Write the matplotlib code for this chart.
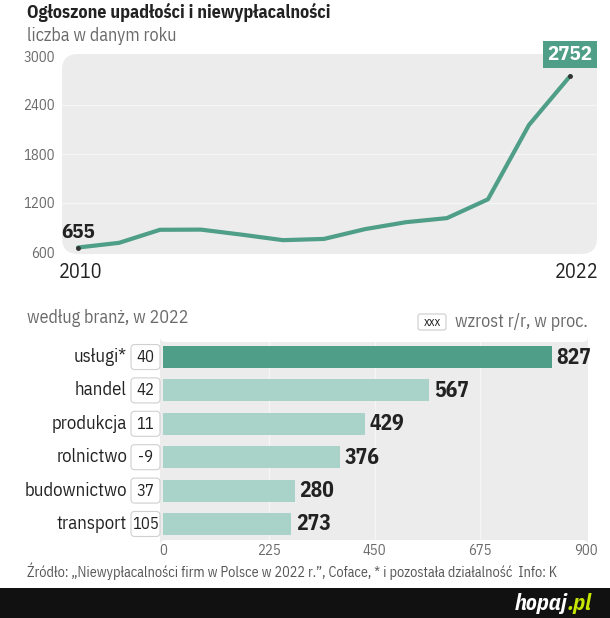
import matplotlib
matplotlib.use("Agg")
import matplotlib.pyplot as plt
from matplotlib.patches import FancyBboxPatch, Rectangle
from matplotlib.text import Annotation

plt.rcParams['font.family'] = ['IBM Plex Sans Condensed', 'DejaVu Sans']

# dane - wykres liniowy
years = list(range(2010, 2023))
counts = [655, 712, 872, 874, 812, 745, 760, 880, 965, 1015, 1245, 2155, 2752]
y_ticks = [600, 1200, 1800, 2400, 3000]

# dane - branże 2022
sectors = ['usługi*', 'handel', 'produkcja', 'rolnictwo', 'budownictwo', 'transport']
sector_counts = [827, 567, 429, 376, 280, 273]
growth = ['40', '42', '11', '-9', '37', '105']
x_ticks = [0, 225, 450, 675, 900]

W, H = 610, 618
teal = '#4f9e87'
light = '#a9d3c8'
panel = '#ececec'
gray = '#6a6a6a'
dark = '#222222'


def px_axes(fig, x0, y0, x1, y1):
    return fig.add_axes([x0 / W, 1 - y1 / H, (x1 - x0) / W, (y1 - y0) / H])


fig = plt.figure(figsize=(W / 100, H / 100), dpi=100)
fig.patch.set_facecolor('white')

fig.text(27 / W, 1 - 12 / H, 'Ogłoszone upadłości i niewypłacalności', fontsize=13,
         fontweight='bold', color=dark, va='center', ha='left')
fig.text(27 / W, 1 - 36 / H, 'liczba w danym roku', fontsize=13, color=gray,
         va='center', ha='left')

# --- górny wykres ---
ax = px_axes(fig, 62, 56, 597, 252)
ax.patch.set_visible(False)
ax.add_patch(FancyBboxPatch((0, -0.01), 1, 1.02, boxstyle='round,pad=0,rounding_size=0.03',
                            transform=ax.transAxes, facecolor=panel, edgecolor='none',
                            clip_on=False, zorder=0, mutation_aspect=2.7))
for v in y_ticks[1:-1]:
    ax.axhline(v, color='#f6f6f6', lw=1, zorder=1)
ax.plot(years, counts, color=teal, lw=3, solid_joinstyle='round', solid_capstyle='round', zorder=3)
ax.plot([years[0], years[-1]], [counts[0], counts[-1]], 'o', color='#333333', ms=2.5, zorder=4)
ax.set_xlim(2009.61, 2022.66)
ax.set_ylim(600, 3000)
ax.set_yticks(y_ticks)
ax.set_yticklabels([str(v) for v in y_ticks])
ax.set_xticks([])
ax.tick_params(axis='y', length=0, pad=5, labelsize=10.5, labelcolor=gray)
for s in ax.spines.values():
    s.set_visible(False)
ax.text(years[0] - 0.4, counts[0] + 70, str(counts[0]), fontsize=15, fontweight='bold',
        color=dark, ha='left', va='bottom')
ax.text(years[-1], counts[-1] + 150, str(counts[-1]), fontsize=15, fontweight='bold',
        color='white', ha='center', va='bottom', zorder=5,
        bbox=dict(boxstyle='square,pad=0.2', facecolor=teal, edgecolor='none'))
ax.text(years[0] + 0.05, 470, str(years[0]), fontsize=14.5, color=dark, ha='center', va='top')
ax.text(years[-1] + 0.15, 470, str(years[-1]), fontsize=14.5, color=dark, ha='center', va='top')

# --- dolny wykres ---
fig.text(27 / W, 1 - 318 / H, 'według branż, w 2022', fontsize=13, color=gray,
         va='center', ha='left')
fig.patches.append(FancyBboxPatch((418 / W, 1 - 330 / H), 28 / W, 16 / H,
                                  boxstyle='round,pad=0,rounding_size=0.004',
                                  transform=fig.transFigure, facecolor='white',
                                  edgecolor='#cccccc', lw=0.8, figure=fig))
fig.text(432 / W, 1 - 322 / H, 'xxx', fontsize=9, color=dark, va='center', ha='center')
fig.text(455 / W, 1 - 322 / H, 'wzrost r/r, w proc.', fontsize=13, color=gray,
         va='center', ha='left')

bx = px_axes(fig, 163, 342, 586, 540)
bx.patch.set_visible(False)
xpu = 900 / 423.0
ypu = 5.93 / 198.0
bx.set_xlim(0, 900)
bx.set_ylim(5.48, -0.45)
bx.add_patch(FancyBboxPatch((-3 * xpu, 5.48), 428 * xpu, -5.93,
                            boxstyle='round,pad=0,rounding_size=12',
                            mutation_aspect=ypu / xpu, facecolor=panel, edgecolor='none',
                            clip_on=False, zorder=0))
for v in x_ticks[1:-1]:
    bx.axvline(v, color='#f6f6f6', lw=1, zorder=1)
colors = [teal] + [light] * (len(sectors) - 1)
bx.barh(range(len(sectors)), sector_counts, height=0.66, color=colors, zorder=2)
for i, (name, val, g) in enumerate(zip(sectors, sector_counts, growth)):
    bx.text(val + 5 * xpu, i, str(val), fontsize=15.5, fontweight='bold', color=dark,
            ha='left', va='center')
    bx.text(-36 * xpu, i, name, fontsize=13.5, color=dark, ha='right', va='center')
    bx.add_patch(FancyBboxPatch((-32 * xpu, i - 12.5 * ypu), 29 * xpu, 25 * ypu,
                                boxstyle='round,pad=0,rounding_size=8',
                                mutation_aspect=ypu / xpu, facecolor='white',
                                edgecolor='#d0d0d0', lw=0.8, clip_on=False, zorder=3))
    bx.text(-17.5 * xpu, i, g, fontsize=12, color=dark, ha='center', va='center', zorder=4)
bx.set_xticks(x_ticks)
bx.set_xticklabels([str(v) for v in x_ticks])
bx.set_yticks([])
bx.tick_params(axis='x', length=0, pad=3, labelsize=10.5, labelcolor=gray)
for s in bx.spines.values():
    s.set_visible(False)

fig.text(27 / W, 1 - 571 / H,
         'Źródło: „Niewypłacalności firm w Polsce w 2022 r.”, Coface, * i pozostała działalność  Info: K',
         fontsize=10.2, color='#555555', va='center', ha='left')

# pasek na dole
fig.patches.append(Rectangle((0, 0), 1, 30 / H, transform=fig.transFigure,
                             facecolor='#111111', edgecolor='none', figure=fig))
logo = fig.text(515 / W, 14 / H, 'hopaj', fontsize=16, fontweight='bold', fontstyle='italic',
                color='white', ha='left', va='center')
fig.add_artist(Annotation('.pl', xy=(1, 0.5), xycoords=logo, xytext=(0, 0),
                          textcoords='offset points', fontsize=16, fontweight='bold',
                          fontstyle='italic', color='#c6e600', ha='left', va='center'))

fig.savefig('out.png', dpi=100)
